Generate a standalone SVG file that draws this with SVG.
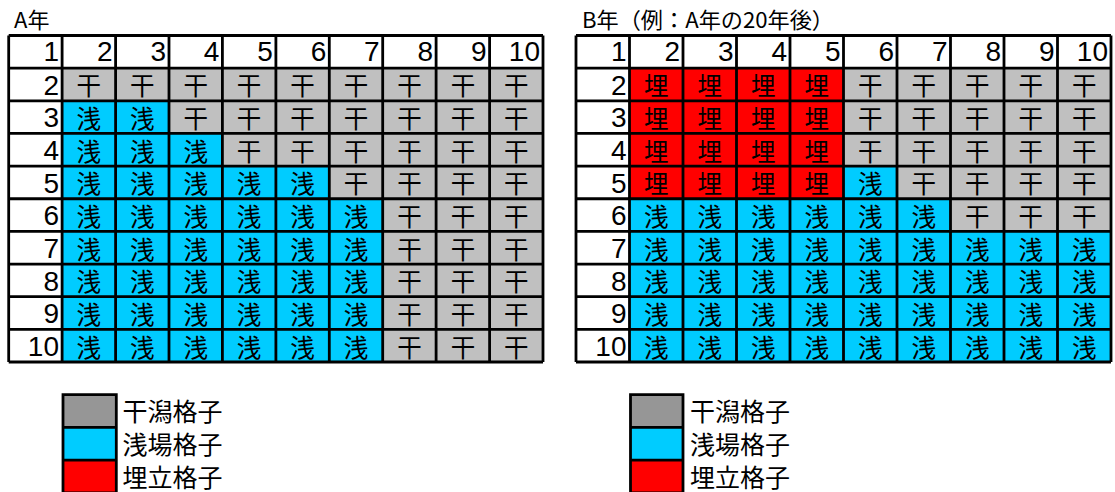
<svg xmlns="http://www.w3.org/2000/svg" width="1115" height="492" viewBox="0 0 1115 492">
<style>
.num{font-family:"Liberation Sans",Arial,sans-serif;font-size:28px;text-anchor:end;fill:#000}
.kj{font-family:"Noto Sans CJK JP",sans-serif;font-size:24.5px;fill:#000}
.ttl{font-family:"Noto Sans CJK JP",sans-serif;font-size:22px;fill:#000}
.lg{font-family:"Noto Sans CJK JP",sans-serif;font-size:25px;fill:#000}
.grid{fill:none;stroke:#000;stroke-width:2.8}
.gr{fill:#C0C0C0}.bl{fill:#00CCFF}.rd{fill:#FF0000}.lgr{fill:#969696}
</style>
<rect width="1115" height="492" fill="#fff"/>
<g id="titleA"><text class="ttl" x="14" y="28">A年</text></g>
<g id="titleB"><text class="ttl" x="582" y="28" textLength="252" lengthAdjust="spacingAndGlyphs">B年（例：A年の20年後）</text></g>

<g id="gridA">
<rect x="8.7" y="35.5" width="534.3" height="326.5" fill="#fff"/>
<rect class="gr" x="62.1" y="68.15" width="480.9" height="293.85"/>
<rect class="bl" x="62.1" y="100.8" width="106.9" height="32.65"/>
<rect class="bl" x="62.1" y="133.45" width="160.3" height="32.65"/>
<rect class="bl" x="62.1" y="166.1" width="267.2" height="32.65"/>
<rect class="bl" x="62.1" y="198.75" width="320.6" height="163.25"/>
<path class="grid" d="M8.7 35.5V362M62.1 35.5V362M115.6 35.5V362M169 35.5V362M222.4 35.5V362M275.9 35.5V362M329.3 35.5V362M382.7 35.5V362M436.1 35.5V362M489.6 35.5V362M543 35.5V362M8.7 35.5H543M8.7 68.15H543M8.7 100.8H543M8.7 133.45H543M8.7 166.1H543M8.7 198.75H543M8.7 231.4H543M8.7 264.05H543M8.7 296.7H543M8.7 329.35H543M8.7 362H543"/>
<text class="num" x="59" y="60.5">1</text><text class="num" x="112.6" y="60.5">2</text><text class="num" x="166" y="60.5">3</text><text class="num" x="219.4" y="60.5">4</text><text class="num" x="272.9" y="60.5">5</text><text class="num" x="326.3" y="60.5">6</text><text class="num" x="379.7" y="60.5">7</text><text class="num" x="433.1" y="60.5">8</text><text class="num" x="486.6" y="60.5">9</text><text class="num" x="540" y="60.5">10</text>
<text class="num" x="59" y="94.8">2</text><text class="num" x="59" y="127.45">3</text><text class="num" x="59" y="160.1">4</text><text class="num" x="59" y="192.75">5</text><text class="num" x="59" y="225.4">6</text><text class="num" x="59" y="258.05">7</text><text class="num" x="59" y="290.7">8</text><text class="num" x="59" y="323.35">9</text><text class="num" x="59" y="356">10</text>
<text class="kj" x="76.55 130.05 183.45 236.85 290.35 343.75 397.15 450.65 504.05" y="95.3">干干干干干干干干干</text>
<text class="kj" x="76.55 130.05 183.45 236.85 290.35 343.75 397.15 450.65 504.05" y="127.95">浅浅干干干干干干干</text>
<text class="kj" x="76.55 130.05 183.45 236.85 290.35 343.75 397.15 450.65 504.05" y="160.6">浅浅浅干干干干干干</text>
<text class="kj" x="76.55 130.05 183.45 236.85 290.35 343.75 397.15 450.65 504.05" y="193.25">浅浅浅浅浅干干干干</text>
<text class="kj" x="76.55 130.05 183.45 236.85 290.35 343.75 397.15 450.65 504.05" y="225.9">浅浅浅浅浅浅干干干</text>
<text class="kj" x="76.55 130.05 183.45 236.85 290.35 343.75 397.15 450.65 504.05" y="258.55">浅浅浅浅浅浅干干干</text>
<text class="kj" x="76.55 130.05 183.45 236.85 290.35 343.75 397.15 450.65 504.05" y="291.2">浅浅浅浅浅浅干干干</text>
<text class="kj" x="76.55 130.05 183.45 236.85 290.35 343.75 397.15 450.65 504.05" y="323.85">浅浅浅浅浅浅干干干</text>
<text class="kj" x="76.55 130.05 183.45 236.85 290.35 343.75 397.15 450.65 504.05" y="356.5">浅浅浅浅浅浅干干干</text>
</g>

<g id="gridB">
<rect x="576" y="35.5" width="535" height="326.5" fill="#fff"/>
<rect class="gr" x="629.5" y="68.15" width="481.5" height="163.25"/>
<rect class="rd" x="629.5" y="68.15" width="214" height="130.6"/>
<rect class="bl" x="843.5" y="166.1" width="53.5" height="32.65"/>
<rect class="bl" x="629.5" y="198.75" width="321" height="32.65"/>
<rect class="bl" x="629.5" y="231.4" width="481.5" height="130.6"/>
<path class="grid" d="M576 35.5V362M629.5 35.5V362M683 35.5V362M736.5 35.5V362M790 35.5V362M843.5 35.5V362M897 35.5V362M950.5 35.5V362M1004 35.5V362M1057.5 35.5V362M1111 35.5V362M576 35.5H1111M576 68.15H1111M576 100.8H1111M576 133.45H1111M576 166.1H1111M576 198.75H1111M576 231.4H1111M576 264.05H1111M576 296.7H1111M576 329.35H1111M576 362H1111"/>
<text class="num" x="626.5" y="60.5">1</text><text class="num" x="680" y="60.5">2</text><text class="num" x="733.5" y="60.5">3</text><text class="num" x="787" y="60.5">4</text><text class="num" x="840.5" y="60.5">5</text><text class="num" x="894" y="60.5">6</text><text class="num" x="947.5" y="60.5">7</text><text class="num" x="1001" y="60.5">8</text><text class="num" x="1054.5" y="60.5">9</text><text class="num" x="1108" y="60.5">10</text>
<text class="num" x="626.5" y="94.8">2</text><text class="num" x="626.5" y="127.45">3</text><text class="num" x="626.5" y="160.1">4</text><text class="num" x="626.5" y="192.75">5</text><text class="num" x="626.5" y="225.4">6</text><text class="num" x="626.5" y="258.05">7</text><text class="num" x="626.5" y="290.7">8</text><text class="num" x="626.5" y="323.35">9</text><text class="num" x="626.5" y="356">10</text>
<text class="kj" x="644 697.5 751 804.5 858 911.5 965 1018.5 1072" y="95.3">埋埋埋埋干干干干干</text>
<text class="kj" x="644 697.5 751 804.5 858 911.5 965 1018.5 1072" y="127.95">埋埋埋埋干干干干干</text>
<text class="kj" x="644 697.5 751 804.5 858 911.5 965 1018.5 1072" y="160.6">埋埋埋埋干干干干干</text>
<text class="kj" x="644 697.5 751 804.5 858 911.5 965 1018.5 1072" y="193.25">埋埋埋埋浅干干干干</text>
<text class="kj" x="644 697.5 751 804.5 858 911.5 965 1018.5 1072" y="225.9">浅浅浅浅浅浅干干干</text>
<text class="kj" x="644 697.5 751 804.5 858 911.5 965 1018.5 1072" y="258.55">浅浅浅浅浅浅浅浅浅</text>
<text class="kj" x="644 697.5 751 804.5 858 911.5 965 1018.5 1072" y="291.2">浅浅浅浅浅浅浅浅浅</text>
<text class="kj" x="644 697.5 751 804.5 858 911.5 965 1018.5 1072" y="323.85">浅浅浅浅浅浅浅浅浅</text>
<text class="kj" x="644 697.5 751 804.5 858 911.5 965 1018.5 1072" y="356.5">浅浅浅浅浅浅浅浅浅</text>
</g>

<g id="legendA">
<rect class="lgr" x="63" y="394.7" width="53.3" height="32.7"/>
<rect class="bl" x="63" y="427.4" width="53.3" height="32.7"/>
<rect class="rd" x="63" y="460.1" width="53.3" height="32.7"/>
<path class="grid" stroke-width="3" d="M63 394.7H116.3V492.8H63ZM63 427.4H116.3M63 460.1H116.3"/>
<text class="lg" x="122.5" y="421">干潟格子</text>
<text class="lg" x="122.5" y="454">浅場格子</text>
<text class="lg" x="122.5" y="487">埋立格子</text>
</g>

<g id="legendB">
<rect class="lgr" x="630.5" y="394.7" width="52.5" height="32.7"/>
<rect class="bl" x="630.5" y="427.4" width="52.5" height="32.7"/>
<rect class="rd" x="630.5" y="460.1" width="52.5" height="32.7"/>
<path class="grid" stroke-width="3" d="M630.5 394.7H683V492.8H630.5ZM630.5 427.4H683M630.5 460.1H683"/>
<text class="lg" x="690" y="421">干潟格子</text>
<text class="lg" x="690" y="454">浅場格子</text>
<text class="lg" x="690" y="487">埋立格子</text>
</g>
</svg>
